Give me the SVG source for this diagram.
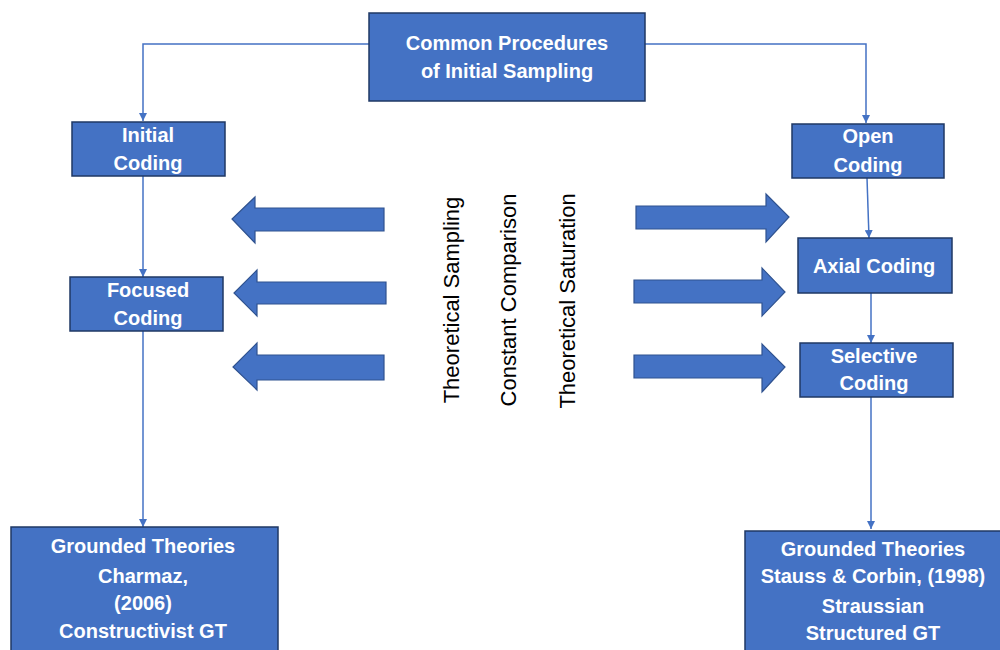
<svg xmlns="http://www.w3.org/2000/svg" width="1000" height="650" viewBox="0 0 1000 650">
<style>
.box{fill:#4472C4;stroke:#1F3864;stroke-width:1.5}
.bt{font-family:"Liberation Sans",Arial,sans-serif;font-weight:bold;font-size:20px;fill:#ffffff;text-anchor:middle}
.vt{font-family:"Liberation Sans",Arial,sans-serif;font-size:22px;fill:#000000;text-anchor:middle}
.con{fill:none;stroke:#4472C4;stroke-width:1.5}
.big{fill:#4472C4;stroke:#2F528F;stroke-width:1.2}
</style>
<defs>
<marker id="ah" viewBox="0 0 10 10" refX="10" refY="5" markerWidth="8" markerHeight="8" markerUnits="userSpaceOnUse" orient="auto">
<path d="M0,0 L10,5 L0,10 Z" fill="#4472C4"/>
</marker>
</defs>
<rect width="1000" height="650" fill="#ffffff"/>
<g id="connectors">
<path class="con" d="M369,44 L143,44 L143,121" marker-end="url(#ah)"/>
<path class="con" d="M645,44 L866,44 L866,123" marker-end="url(#ah)"/>
<path class="con" d="M143,176 L143,277" marker-end="url(#ah)"/>
<path class="con" d="M143,331 L143,527" marker-end="url(#ah)"/>
<path class="con" d="M867,178 L869,238" marker-end="url(#ah)"/>
<path class="con" d="M871,293 L871,343" marker-end="url(#ah)"/>
<path class="con" d="M871,397 L871,529" marker-end="url(#ah)"/>
</g>
<g id="big-arrows">
<path class="big" d="M384,208 L255,208 L255,197 L232,219 L255,243 L255,231 L384,231 Z"/>
<path class="big" d="M386,282 L257,282 L257,270 L234,293 L257,316 L257,304 L386,304 Z"/>
<path class="big" d="M384,355 L257,355 L257,343 L233,367 L257,390 L257,380 L384,380 Z"/>
<path class="big" d="M636,206 L766,206 L766,194 L789,217 L766,242 L766,229 L636,229 Z"/>
<path class="big" d="M634,280 L762,280 L762,268 L785,292 L762,316 L762,303 L634,303 Z"/>
<path class="big" d="M634,355 L762,355 L762,344 L785,367 L762,392 L762,378 L634,378 Z"/>
</g>
<g id="labels">
<text class="vt" transform="translate(459,300) rotate(-90)">Theoretical Sampling</text>
<text class="vt" transform="translate(516,300) rotate(-90)">Constant Comparison</text>
<text class="vt" transform="translate(575,301) rotate(-90)">Theoretical Saturation</text>
</g>
<g id="common-procedures">
<rect class="box" x="369" y="13" width="276" height="88"/>
<text class="bt" x="507" y="50">Common Procedures</text>
<text class="bt" x="507" y="78">of Initial Sampling</text>
</g>
<g id="initial-coding">
<rect class="box" x="72" y="122" width="153" height="54"/>
<text class="bt" x="148" y="142">Initial</text>
<text class="bt" x="148" y="170">Coding</text>
</g>
<g id="focused-coding">
<rect class="box" x="70" y="277" width="153" height="54"/>
<text class="bt" x="148" y="297">Focused</text>
<text class="bt" x="148" y="325">Coding</text>
</g>
<g id="grounded-charmaz">
<rect class="box" x="11" y="527" width="267" height="135"/>
<text class="bt" x="143" y="553">Grounded Theories</text>
<text class="bt" x="143" y="583">Charmaz,</text>
<text class="bt" x="143" y="610">(2006)</text>
<text class="bt" x="143" y="638">Constructivist GT</text>
</g>
<g id="open-coding">
<rect class="box" x="792" y="124" width="152" height="54"/>
<text class="bt" x="868" y="143">Open</text>
<text class="bt" x="868" y="172">Coding</text>
</g>
<g id="axial-coding">
<rect class="box" x="798" y="238" width="154" height="55"/>
<text class="bt" x="874" y="273">Axial Coding</text>
</g>
<g id="selective-coding">
<rect class="box" x="800" y="343" width="153" height="54"/>
<text class="bt" x="874" y="363">Selective</text>
<text class="bt" x="874" y="390">Coding</text>
</g>
<g id="grounded-strauss">
<rect class="box" x="745" y="531" width="265" height="131"/>
<text class="bt" x="873" y="556">Grounded Theories</text>
<text class="bt" x="873" y="583">Stauss &amp; Corbin, (1998)</text>
<text class="bt" x="873" y="613">Straussian</text>
<text class="bt" x="873" y="640">Structured GT</text>
</g>
</svg>
